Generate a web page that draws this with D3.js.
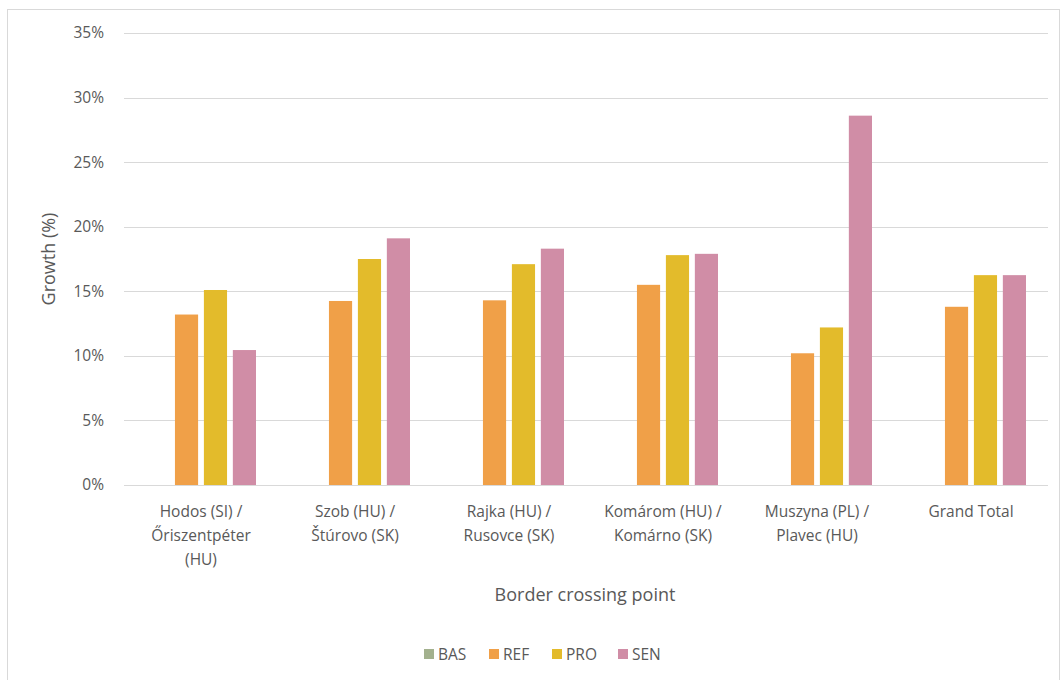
<!DOCTYPE html>
<meta charset="utf-8">
<style>
body { margin: 0; padding: 0; background: #fff; }
text { font-family: "Open Sans", "Liberation Sans", sans-serif; fill: #595959; }
.grid line { stroke: #d9d9d9; stroke-width: 1px; }
.tick text { font-size: 15.5px; }
</style>
<body>
<script src="https://d3js.org/d3.v7.min.js"></script>
<script>
var categories = [
  ["Hodos (SI) /", "Őriszentpéter", "(HU)"],
  ["Szob (HU) /", "Štúrovo (SK)"],
  ["Rajka (HU) /", "Rusovce (SK)"],
  ["Komárom (HU) /", "Komárno (SK)"],
  ["Muszyna (PL) /", "Plavec (HU)"],
  ["Grand Total"]
];
var seriesNames = ["BAS", "REF", "PRO", "SEN"];
var bas = [0, 0, 0, 0, 0, 0];
var ref = [0.132, 0.1425, 0.143, 0.155, 0.102, 0.138];
var pro = [0.151, 0.175, 0.171, 0.178, 0.122, 0.1625];
var sen = [0.1045, 0.191, 0.183, 0.179, 0.286, 0.1625];
var yTicks = [0, 0.05, 0.10, 0.15, 0.20, 0.25, 0.30, 0.35];
var colors = ["#a3b18e", "#f0a048", "#e3bb2b", "#d08da6"];

var width = 1062, height = 680;
var margin = {left: 124, right: 14, top: 33, bottom: 195};

var svg = d3.select("body").append("svg")
    .attr("width", width)
    .attr("height", height)
    .style("display", "block");

svg.append("rect")
    .attr("x", 7.5).attr("y", 9.5)
    .attr("width", 1052).attr("height", 680)
    .attr("fill", "#fff")
    .attr("stroke", "#d9d9d9");

var x = d3.scaleBand()
    .domain(d3.range(categories.length))
    .range([margin.left, width - margin.right]);

var inner = d3.scaleBand()
    .domain(seriesNames)
    .range([-55, 55])
    .paddingInner(0.2);

var y = d3.scaleLinear()
    .domain([0, 0.35])
    .range([height - margin.bottom, margin.top]);

// gridlines + y tick labels
var grid = svg.append("g").attr("class", "grid");
grid.selectAll("line").data(yTicks).join("line")
    .attr("x1", margin.left).attr("x2", width - margin.right)
    .attr("y1", function(d) { return Math.round(y(d)) + 0.5; })
    .attr("y2", function(d) { return Math.round(y(d)) + 0.5; });

svg.append("g").attr("class", "tick").selectAll("text").data(yTicks).join("text")
    .attr("x", 104)
    .attr("y", function(d) { return y(d); })
    .attr("dy", "0.35em")
    .attr("text-anchor", "end")
    .text(d3.format(".0%"));

// bars
var series = [bas, ref, pro, sen];
series.forEach(function(vals, si) {
  svg.append("g").selectAll("rect").data(vals).join("rect")
      .attr("x", function(d, i) { return x(i) + x.bandwidth() / 2 + inner(seriesNames[si]); })
      .attr("width", inner.bandwidth())
      .attr("y", function(d) { return y(d); })
      .attr("height", function(d) { return y(0) - y(d); })
      .attr("fill", colors[si]);
});

// category labels
var cat = svg.append("g").attr("class", "tick").selectAll("text").data(categories).join("text")
    .attr("text-anchor", "middle")
    .attr("transform", function(d, i) { return "translate(" + (x(i) + x.bandwidth() / 2) + ",517)"; });
cat.selectAll("tspan").data(function(d) { return d; }).join("tspan")
    .attr("x", 0)
    .attr("dy", function(d, i) { return i === 0 ? 0 : 24; })
    .text(function(d) { return d; });

// axis titles
svg.append("text")
    .attr("transform", "translate(55," + ((y(0) + y(0.35)) / 2) + ") rotate(-90)")
    .attr("text-anchor", "middle")
    .style("font-size", "18px")
    .text("Growth (%)");

svg.append("text")
    .attr("x", 585).attr("y", 601)
    .attr("text-anchor", "middle")
    .style("font-size", "18px")
    .text("Border crossing point");

// legend
var legendX = [424, 489, 552, 618];
var lg = svg.append("g").selectAll("g").data(seriesNames).join("g")
    .attr("transform", function(d, i) { return "translate(" + legendX[i] + ",649)"; });
lg.append("rect").attr("width", 10).attr("height", 10)
    .attr("fill", function(d, i) { return colors[i]; });
lg.append("text").attr("x", 14).attr("y", 10.5)
    .style("font-size", "15.5px")
    .text(function(d) { return d; });
</script>
</body>
